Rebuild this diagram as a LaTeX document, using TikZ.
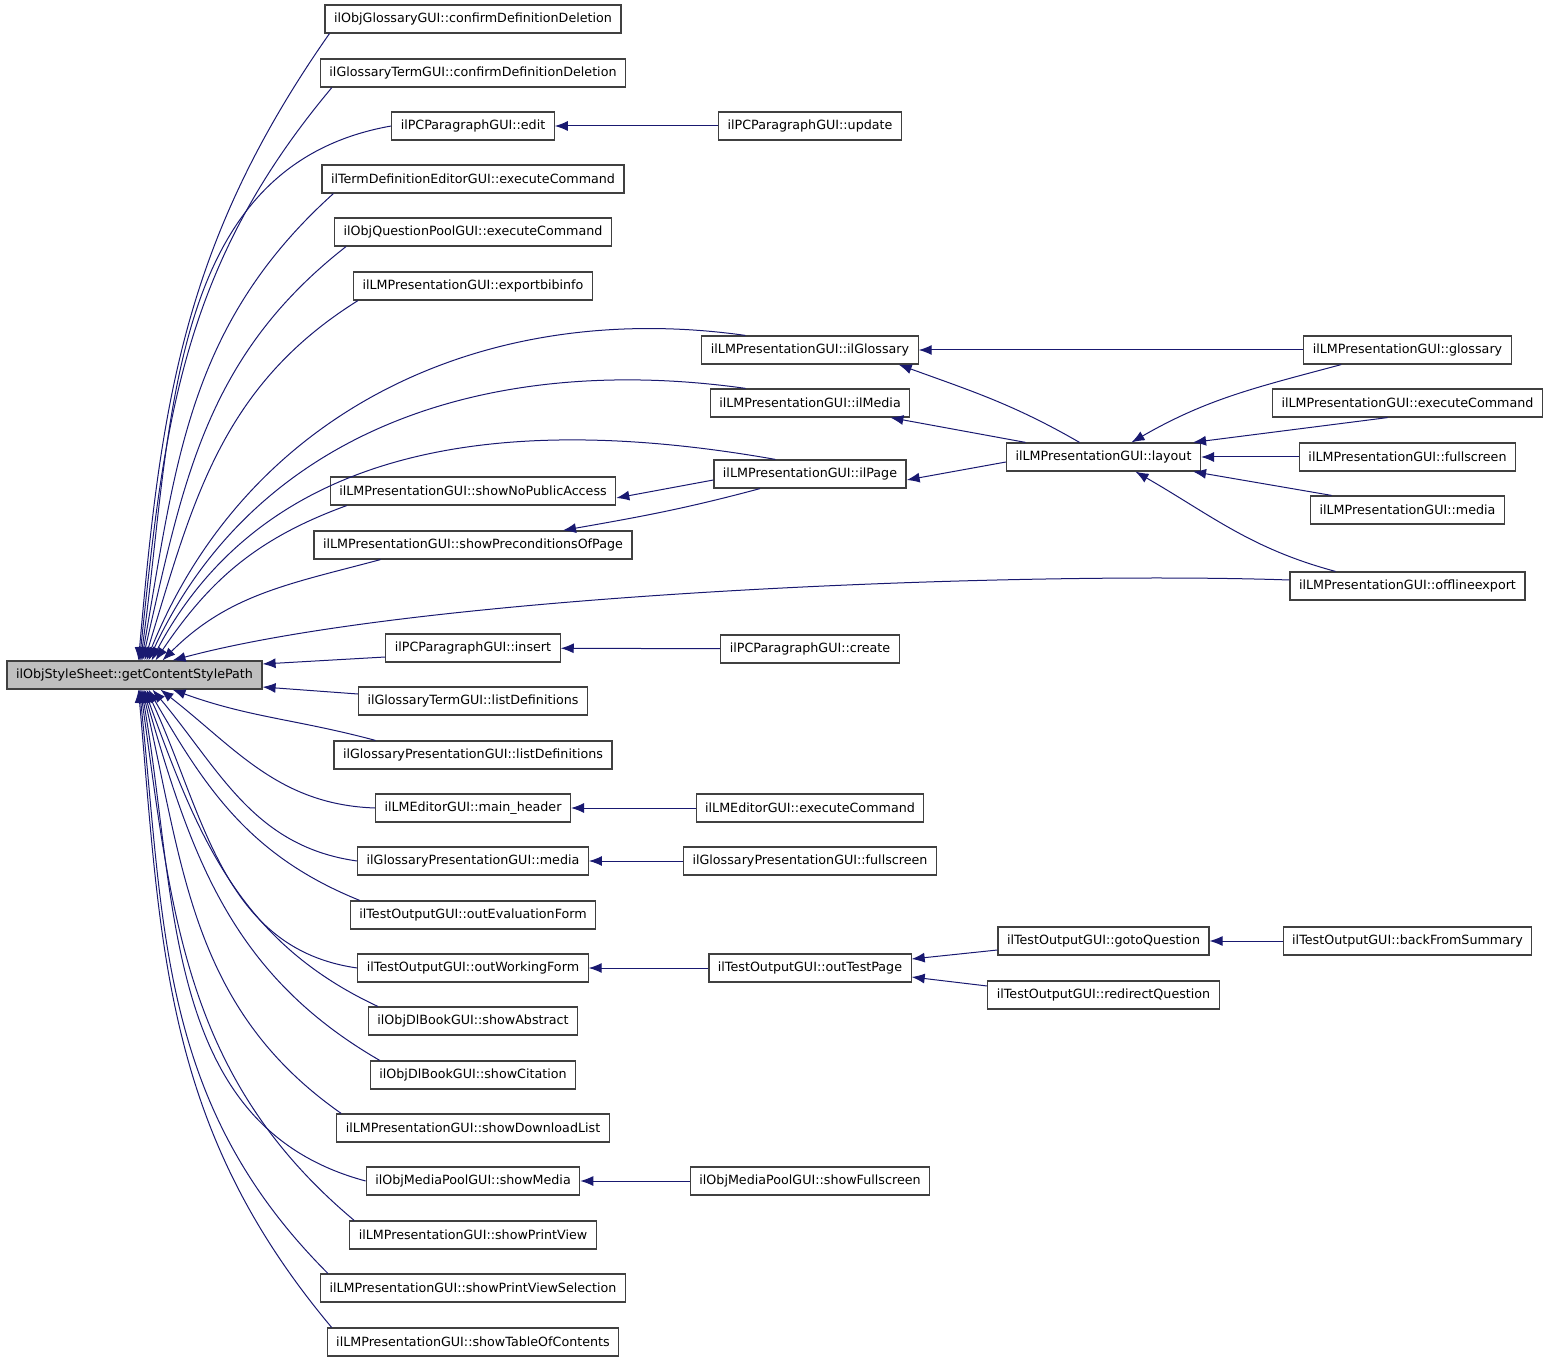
\documentclass[tikz,border=0pt]{standalone}
\usepackage{fontspec}
\setmainfont{DejaVu Sans}
\usetikzlibrary{arrows.meta,calc}
\definecolor{CallBlue}{RGB}{25,25,112}
\definecolor{RootGray}{RGB}{191,191,191}

\begin{document}
\begin{tikzpicture}[x=0.5pt,y=-0.5pt,>={Latex[length=6.5pt,width=5pt]},
    box/.style={draw=black!75,line width=0.6pt,fill=white,inner xsep=4.5pt,
      minimum height=14pt,font=\fontsize{6.35}{7}\selectfont},
    rootbox/.style={box,fill=RootGray},
    call/.style={<-,CallBlue,line width=0.5pt}]
  \useasboundingbox (0,0) rectangle (1552,1363);
  % the function and its direct callers
  \node[rootbox] (root) at (134.5,675) {ilObjStyleSheet::getContentStylePath};
  \node[box] (cddObj) at (473,19) {ilObjGlossaryGUI::confirmDefinitionDeletion};
  \node[box] (cddTerm) at (473,73) {ilGlossaryTermGUI::confirmDefinitionDeletion};
  \node[box] (pcEdit) at (473,126) {ilPCParagraphGUI::edit};
  \node[box] (tdeExec) at (473,179) {ilTermDefinitionEditorGUI::executeCommand};
  \node[box] (qpExec) at (473,232) {ilObjQuestionPoolGUI::executeCommand};
  \node[box] (lmBib) at (473,286) {ilLMPresentationGUI::exportbibinfo};
  \node[box] (lmNoPub) at (473,491) {ilLMPresentationGUI::showNoPublicAccess};
  \node[box] (lmPrecond) at (473,545) {ilLMPresentationGUI::showPreconditionsOfPage};
  \node[box] (pcInsert) at (473,648) {ilPCParagraphGUI::insert};
  \node[box] (gtListDef) at (473,701) {ilGlossaryTermGUI::listDefinitions};
  \node[box] (gpListDef) at (473,755) {ilGlossaryPresentationGUI::listDefinitions};
  \node[box] (lmeHeader) at (473,808) {ilLMEditorGUI::main\_header};
  \node[box] (gpMedia) at (473,861) {ilGlossaryPresentationGUI::media};
  \node[box] (toEval) at (473,915) {ilTestOutputGUI::outEvaluationForm};
  \node[box] (toWork) at (473,968) {ilTestOutputGUI::outWorkingForm};
  \node[box] (dbAbstract) at (473,1021) {ilObjDlBookGUI::showAbstract};
  \node[box] (dbCitation) at (473,1075) {ilObjDlBookGUI::showCitation};
  \node[box] (lmDownload) at (473,1128) {ilLMPresentationGUI::showDownloadList};
  \node[box] (mpShow) at (473,1181) {ilObjMediaPoolGUI::showMedia};
  \node[box] (lmPrint) at (473,1235) {ilLMPresentationGUI::showPrintView};
  \node[box] (lmPrintSel) at (473,1288) {ilLMPresentationGUI::showPrintViewSelection};
  \node[box] (lmToc) at (473,1342) {ilLMPresentationGUI::showTableOfContents};
  % second column
  \node[box] (pcUpdate) at (810,126) {ilPCParagraphGUI::update};
  \node[box] (lmGlos) at (810,350) {ilLMPresentationGUI::ilGlossary};
  \node[box] (lmMedia) at (810,403) {ilLMPresentationGUI::ilMedia};
  \node[box] (lmPage) at (810,474) {ilLMPresentationGUI::ilPage};
  \node[box] (pcCreate) at (810,649) {ilPCParagraphGUI::create};
  \node[box] (lmeExec) at (810,808) {ilLMEditorGUI::executeCommand};
  \node[box] (gpFull) at (810,861) {ilGlossaryPresentationGUI::fullscreen};
  \node[box] (toPage) at (810,968) {ilTestOutputGUI::outTestPage};
  \node[box] (mpFull) at (810,1181) {ilObjMediaPoolGUI::showFullscreen};
  % third and fourth column
  \node[box] (lmLayout) at (1103.5,457) {ilLMPresentationGUI::layout};
  \node[box] (toGoto) at (1103.5,941) {ilTestOutputGUI::gotoQuestion};
  \node[box] (toRedirect) at (1103.5,995) {ilTestOutputGUI::redirectQuestion};
  \node[box] (lmGlossary) at (1407.5,350) {ilLMPresentationGUI::glossary};
  \node[box] (lmExec) at (1407.5,403) {ilLMPresentationGUI::executeCommand};
  \node[box] (lmFull) at (1407.5,457) {ilLMPresentationGUI::fullscreen};
  \node[box] (lmMediaR) at (1407.5,510) {ilLMPresentationGUI::media};
  \node[box] (lmOffline) at (1407.5,586) {ilLMPresentationGUI::offlineexport};
  \node[box] (toBack) at (1407.5,941) {ilTestOutputGUI::backFromSummary};
  % calls coming in from above
  \foreach \r/\o/\t/\a/\s/\i in {2/85/cddObj/south west/2.5/235,
      2.5/84/cddTerm/south west/6/230, 3/82/pcEdit/west/0/190,
      3.5/80/tdeExec/south west/6/222, 4/77/qpExec/south west/6/218,
      5/73/lmBib/south west/2.5/212, 6/68/lmGlos/north west/22/172,
      7/65/lmMedia/north west/18/172, 8.5/62/lmPage/north west/31/170,
      10.5/56/lmNoPub/south west/8.5/200, 14/45/lmPrecond/south west/33.5/195}
    \draw[call] ([xshift=\r pt]root.north) to[out=\o,in=\i] ([xshift=\s pt]\t.\a);
  \draw[call] ([xshift=19pt]root.north) to[out=15,in=178,looseness=0.6] ([yshift=3pt]lmOffline.west);
  % calls coming in from below
  \foreach \r/\o/\t/\a/\s/\i in {19/-20/gpListDef/north west/21/165,
      13/-38/lmeHeader/west/0/178, 9/-50/gpMedia/west/0/172,
      7/-60/toEval/north west/5/158, 6/-65/toWork/west/0/172,
      5/-70/dbAbstract/north west/5/155, 4.5/-74/dbCitation/north west/5/150,
      4/-77/lmDownload/north west/2.5/145, 3.5/-80/mpShow/west/0/165,
      3/-82/lmPrint/north west/2.5/140, 2.5/-84/lmPrintSel/north west/4/135,
      2/-85/lmToc/north west/2.5/130}
    \draw[call] ([xshift=\r pt]root.south) to[out=\o,in=\i] ([xshift=\s pt]\t.\a);
  \draw[call] ([yshift=5.5pt]root.east) -- ([yshift=-4.5pt]pcInsert.west);
  \draw[call] ([yshift=-6pt]root.east) -- ([yshift=3.5pt]gtListDef.west);
  % further callers
  \draw[call] (pcEdit) -- (pcUpdate);
  \draw[call] (pcInsert) -- (pcCreate);
  \draw[call] (lmeHeader) -- (lmeExec);
  \draw[call] (gpMedia) -- (gpFull);
  \draw[call] (toWork) -- (toPage);
  \draw[call] (mpShow) -- (mpFull);
  \draw[call] (lmGlos) -- (lmGlossary);
  \draw[call] ([xshift=-10pt]lmGlos.south east) to[out=-20,in=150] ([xshift=-12pt]lmLayout.north);
  \draw[call] ([xshift=-10pt]lmMedia.south east) -- ([xshift=-39pt]lmLayout.north);
  \draw[call] ([yshift=-3pt]lmPage.east) -- ([yshift=-2.5pt]lmLayout.west);
  \draw[call] ([yshift=-3.5pt]lmNoPub.east) -- ([yshift=-3pt]lmPage.west);
  \draw[call] ([xshift=45pt]lmPrecond.north) to[out=10,in=195] ([xshift=-25pt]lmPage.south);
  \draw[call] ([xshift=14pt]lmLayout.north) to[out=30,in=195] ([xshift=19pt]lmGlossary.south west);
  \draw[call] ([xshift=-4pt]lmLayout.north east) -- ([xshift=-10pt]lmExec.south);
  \draw[call] (lmLayout) -- (lmFull);
  \draw[call] ([xshift=-4pt]lmLayout.south east) -- ([xshift=-38pt]lmMediaR.north);
  \draw[call] ([xshift=16pt]lmLayout.south) to[out=-30,in=165] ([xshift=-36pt]lmOffline.north);
  \draw[call] ([yshift=4.5pt]toPage.east) -- ([yshift=-4.5pt]toGoto.west);
  \draw[call] ([yshift=-4.5pt]toPage.east) -- ([yshift=4.5pt]toRedirect.west);
  \draw[call] (toGoto) -- (toBack);
\end{tikzpicture}
\end{document}
